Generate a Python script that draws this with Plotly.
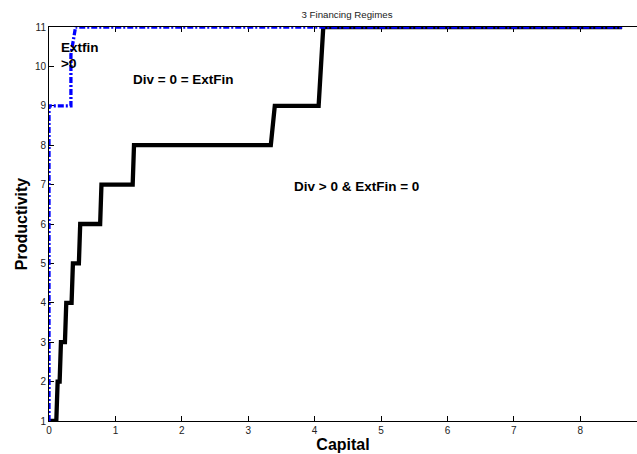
import plotly.graph_objects as go

# Black staircase: Div > 0 & ExtFin = 0 boundary
capital_black = [0.0, 0.11, 0.13, 0.16, 0.18, 0.24, 0.26, 0.34, 0.36, 0.45, 0.47, 0.77, 0.79,
                 1.26, 1.28, 3.34, 3.40, 4.06, 4.13, 8.63]
prod_black = [1, 1, 2, 2, 3, 3, 4, 4, 5, 5, 6, 6, 7, 7, 8, 8, 9, 9, 11, 11]

# Blue dash-dot: ExtFin > 0 boundary
capital_blue = [0.0, 0.0, 0.33, 0.33, 0.40, 8.63]
prod_blue = [1, 9, 9, 10.3, 11, 11]

x_ticks = [0, 1, 2, 3, 4, 5, 6, 7, 8]
y_ticks = [1, 2, 3, 4, 5, 6, 7, 8, 9, 10, 11]

labels = ["Extfin", ">0", "Div = 0 = ExtFin", "Div > 0 & ExtFin = 0"]
label_x = [0.15, 0.15, 1.235, 3.66]
label_y = [10.47, 10.08, 9.655, 6.95]

fig = go.Figure()
fig.add_trace(go.Scatter(x=capital_black, y=prod_black, mode="lines",
                         line=dict(color="black", width=4.3), cliponaxis=False,
                         showlegend=False, hoverinfo="skip"))
fig.add_trace(go.Scatter(x=capital_blue, y=prod_blue, mode="lines",
                         line=dict(color="#0000ff", width=3.3, dash="6px,2px,2px,2px"),
                         cliponaxis=False, showlegend=False, hoverinfo="skip"))

for t, x, y in zip(labels, label_x, label_y):
    fig.add_annotation(x=x, y=y, text="<b>%s</b>" % t, showarrow=False,
                       xanchor="left", yanchor="middle",
                       font=dict(family="Liberation Sans, Arial", size=13.5, color="black"))

fig.update_layout(
    width=637, height=454,
    margin=dict(l=49, r=0, t=27, b=33, pad=0),
    plot_bgcolor="white", paper_bgcolor="white",
    font=dict(family="Liberation Sans, Arial", color="#222"),
    title=dict(text="3 Financing Regimes", x=347 / 637, xanchor="center",
               y=1 - 15 / 454, yanchor="middle",
               font=dict(size=9.7, color="#222")),
    xaxis=dict(range=[0, 8.854], tickvals=x_ticks, ticks="inside", ticklen=5,
               tickcolor="black", showline=True, linecolor="black", linewidth=1,
               mirror="ticks", showgrid=False, zeroline=False, layer="below traces",
               automargin=False,
               tickfont=dict(size=10, color="#222"),
               title=dict(text="<b>Capital</b>", standoff=0,
                          font=dict(size=16, color="black"))),
    yaxis=dict(range=[1, 11], tickvals=y_ticks, ticks="inside", ticklen=5,
               tickcolor="black", showline=True, linecolor="black", linewidth=1,
               showgrid=False, zeroline=False, layer="below traces",
               automargin=False,
               tickfont=dict(size=10, color="#222"),
               title=dict(text="<b>Productivity</b>", standoff=3,
                          font=dict(size=16, color="black"))),
)

fig.write_html("out.html", config={"displayModeBar": False},
               post_script="document.body.style.margin='0px';document.body.style.overflow='hidden';")
